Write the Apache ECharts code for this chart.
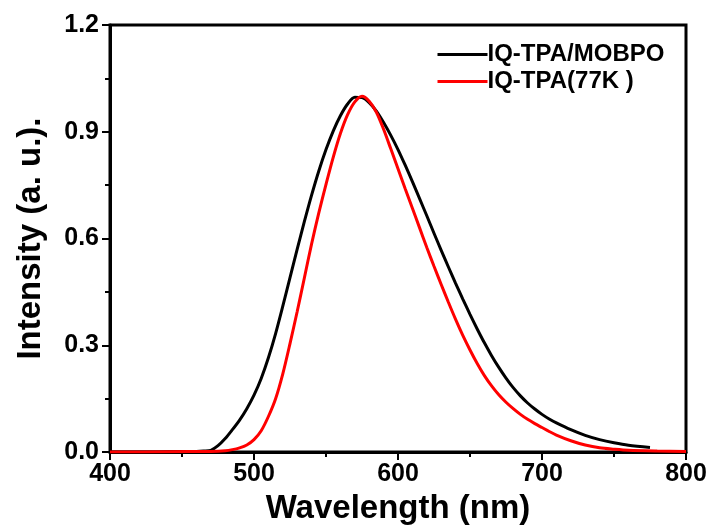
<!DOCTYPE html>
<html><head><meta charset="utf-8">
<script src="https://cdn.jsdelivr.net/npm/echarts@6/dist/echarts.min.js"></script>
<style>html,body{margin:0;padding:0;background:#fff}#c{width:713px;height:530px}</style>
</head><body><div id="c"></div>
<script>
const seriesNames = ['IQ-TPA/MOBPO', 'IQ-TPA(77K )'];
const xTicks = [400, 500, 600, 700, 800];
const yTicks = [0.0, 0.3, 0.6, 0.9, 1.2];

const wlBlack = [400,420,440,460,465,470,475,480,485,490,495,500,505,510,515,520,525,530,535,540,545,550,555,560,565,570,575,580,585,590,595,600,605,610,615,620,625,630,635,640,645,650,655,660,665,670,675,680,685,690,695,700,705,710,720,730,740,750,760,775];
const intBlack = [0,0,0.001,0.002,0.003,0.005,0.018,0.038,0.063,0.09,0.122,0.16,0.207,0.265,0.333,0.41,0.49,0.57,0.648,0.722,0.79,0.85,0.902,0.945,0.978,0.997,0.996,0.982,0.958,0.926,0.89,0.85,0.806,0.76,0.712,0.664,0.615,0.567,0.52,0.474,0.43,0.387,0.346,0.307,0.271,0.238,0.208,0.181,0.158,0.138,0.121,0.106,0.093,0.082,0.063,0.047,0.035,0.026,0.019,0.013];

const wlRed = [400,440,470,480,485,490,495,500,505,510,515,520,525,530,535,540,545,550,555,560,565,570,575,580,585,590,595,600,605,610,615,620,625,630,635,640,645,650,655,660,665,670,675,680,685,690,695,700,705,710,720,730,740,750,760,780,800];
const intRed = [0,0.001,0.002,0.004,0.007,0.012,0.02,0.035,0.06,0.1,0.15,0.22,0.305,0.395,0.49,0.585,0.672,0.752,0.828,0.895,0.948,0.984,1.0,0.986,0.955,0.907,0.852,0.796,0.74,0.685,0.63,0.575,0.522,0.471,0.421,0.373,0.328,0.287,0.249,0.215,0.186,0.161,0.14,0.122,0.106,0.092,0.08,0.069,0.058,0.048,0.032,0.02,0.012,0.008,0.005,0.003,0.002];

const pair = (xs, ys) => xs.map((x, i) => [x, ys[i]]);
const F = 'Liberation Sans, Arial, sans-serif';

const chart = echarts.init(document.getElementById('c'), null, {renderer: 'canvas'});
chart.setOption({
  animation: false,
  backgroundColor: '#fff',
  grid: {left: 110, right: 27, top: 25, bottom: 74, show: true, borderColor: '#000', borderWidth: 3, backgroundColor: 'transparent'},
  legend: {
    orient: 'vertical', left: 431, top: 37, itemWidth: 50, itemHeight: 14, itemGap: 2,
    data: seriesNames,
    textStyle: {fontFamily: F, fontWeight: 'bold', fontSize: 24, color: '#000', lineHeight: 25, padding: [0,0,0,-5]},
    lineStyle: {width: 3},
    itemStyle: {opacity: 0}
  },
  xAxis: {
    type: 'value', min: xTicks[0], max: xTicks[xTicks.length-1], interval: 100,
    name: 'Wavelength (nm)', nameLocation: 'middle', nameGap: 33,
    nameTextStyle: {fontFamily: F, fontWeight: 'bold', fontSize: 33, color: '#000'},
    axisLine: {show: true, onZero: false, lineStyle: {color: '#000', width: 3}},
    axisTick: {show: true, inside: false, length: 8, lineStyle: {color: '#000', width: 2}},
    minorTick: {show: true, splitNumber: 2, length: 5, lineStyle: {color: '#000', width: 2}},
    splitLine: {show: false},
    axisLabel: {margin: 10, fontFamily: F, fontWeight: 'bold', fontSize: 25, color: '#000'}
  },
  yAxis: {
    type: 'value', min: yTicks[0], max: yTicks[yTicks.length-1], interval: 0.3,
    name: 'Intensity (a. u.).', nameLocation: 'middle', nameGap: 63,
    nameTextStyle: {fontFamily: F, fontWeight: 'bold', fontSize: 33, color: '#000'},
    axisLine: {show: true, lineStyle: {color: '#000', width: 3}},
    axisTick: {show: true, inside: false, length: 8, lineStyle: {color: '#000', width: 2}},
    minorTick: {show: true, splitNumber: 2, length: 5, lineStyle: {color: '#000', width: 2}},
    splitLine: {show: false},
    axisLabel: {margin: 11, fontFamily: F, fontWeight: 'bold', fontSize: 25, color: '#000', formatter: v => v.toFixed(1)}
  },
  series: [
    {name: seriesNames[0], type: 'line', data: pair(wlBlack, intBlack), smooth: 0.3, symbol: 'none', lineStyle: {color: '#000', width: 3}, itemStyle: {color: '#000'}, z: 3},
    {name: seriesNames[1], type: 'line', data: pair(wlRed, intRed), smooth: 0.3, symbol: 'none', lineStyle: {color: '#ff0000', width: 3}, itemStyle: {color: '#ff0000'}, z: 4}
  ]
});
</script></body></html>
